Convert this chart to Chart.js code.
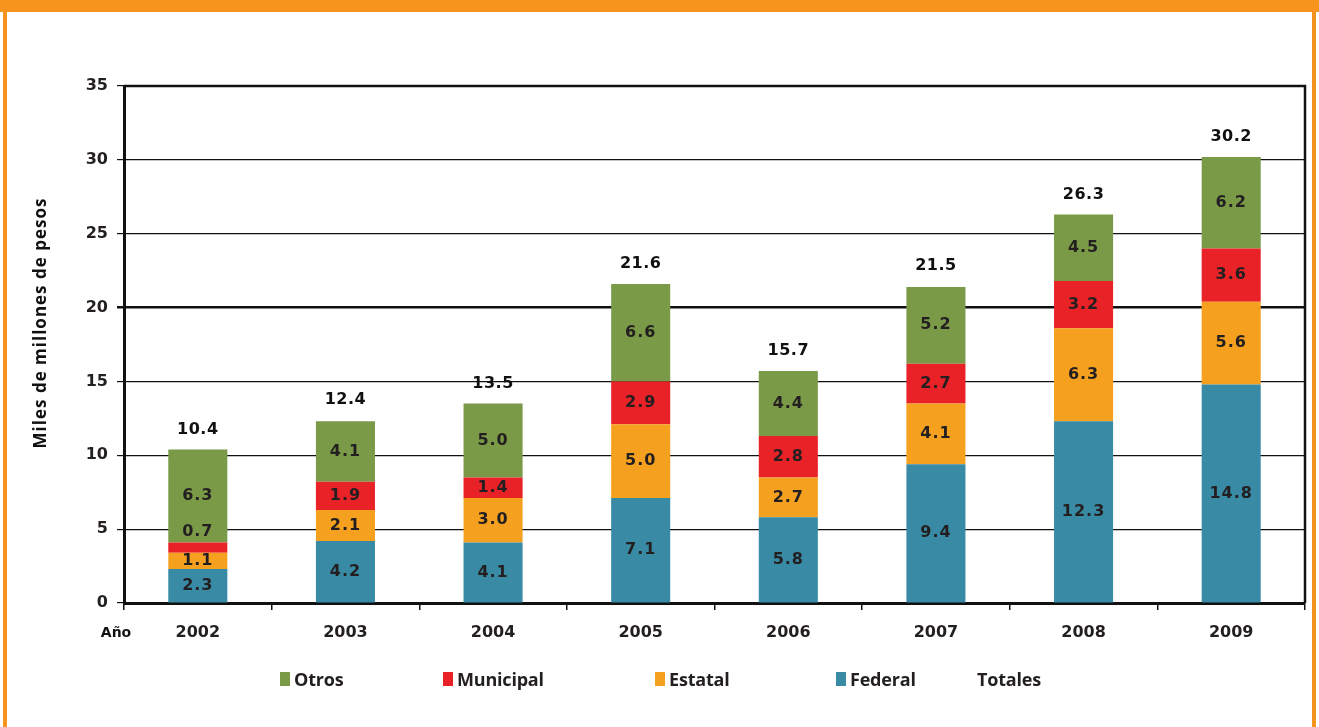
<!DOCTYPE html>
<html>
<head>
<meta charset="utf-8">
<script src="https://cdn.jsdelivr.net/npm/chart.js@4"></script>
<style>
  body { margin: 0; background: #fff; width: 1319px; height: 727px; overflow: hidden; position: relative; font-family: "Open Sans", sans-serif; }
  .frame { position: absolute; left: 3px; top: 0; width: 1305px; height: 760px; border-left: 4px solid #f7941d; border-right: 4px solid #f7941d; }
  .band { position: absolute; left: 0; top: 0; width: 1319px; height: 12px; background: #f7941d; }
  #wrap { position: absolute; left: 0; top: 0; width: 1319px; height: 727px; }
  .legend { position: absolute; top: 667px; font-weight: 700; font-size: 18px; color: #231f20; display: flex; align-items: center; letter-spacing: -0.2px; }
  .legend i { display: inline-block; width: 10px; height: 14px; margin-right: 4px; }
</style>
</head>
<body>
<div class="frame"></div>
<div class="band"></div>
<div id="wrap"><canvas id="c"></canvas></div>
<div class="legend" style="left:280px"><i style="background:#7a9a47"></i>Otros</div>
<div class="legend" style="left:443px"><i style="background:#e92228"></i>Municipal</div>
<div class="legend" style="left:655px"><i style="background:#f5a01f"></i>Estatal</div>
<div class="legend" style="left:836px"><i style="background:#398aa4"></i>Federal</div>
<div class="legend" style="left:977px">Totales</div>
<script>
// Gasto por año (miles de millones de pesos)
const years = ['2002', '2003', '2004', '2005', '2006', '2007', '2008', '2009'];
const federal = [2.3, 4.2, 4.1, 7.1, 5.8, 9.4, 12.3, 14.8];
const estatal = [1.1, 2.1, 3.0, 5.0, 2.7, 4.1, 6.3, 5.6];
const municipal = [0.7, 1.9, 1.4, 2.9, 2.8, 2.7, 3.2, 3.6];
const otros = [6.3, 4.1, 5.0, 6.6, 4.4, 5.2, 4.5, 6.2];
const totales = [10.4, 12.4, 13.5, 21.6, 15.7, 21.5, 26.3, 30.2];
const yTicks = [0, 5, 10, 15, 20, 25, 30, 35];

const textColor = '#231f20';
const fontFam = '"Open Sans", sans-serif';
const tickFam = '"DejaVu Sans", sans-serif';

// labels inside segments + totals on top, frame of plot area, axis title
const labelsPlugin = {
    id: 'labels',
    afterDatasetsDraw(chart) {
        const ctx = chart.ctx;
        const area = chart.chartArea;
        ctx.save();
        // top and right border of the plot
        ctx.strokeStyle = '#111';
        ctx.lineWidth = 2.5;
        ctx.beginPath();
        ctx.moveTo(area.left, area.top);
        ctx.lineTo(area.right, area.top);
        ctx.lineTo(area.right, area.bottom);
        ctx.stroke();

        ctx.fillStyle = textColor;
        ctx.textAlign = 'center';
        ctx.textBaseline = 'middle';
        ctx.letterSpacing = '1px';
        ctx.font = 'bold 16px ' + tickFam;
        for (let d = 0; d < 4; d++) {
            const meta = chart.getDatasetMeta(d);
            const data = chart.data.datasets[d].data;
            meta.data.forEach((bar, i) => {
                const h = bar.base - bar.y;
                const y = h < 14 ? bar.y - 11 : (bar.y + bar.base) / 2;
                ctx.fillText(data[i].toFixed(1), bar.x, y);
            });
        }
        ctx.letterSpacing = '0.5px';
        ctx.fillStyle = '#111';
        ctx.font = 'bold 16px ' + tickFam;
        const tMeta = chart.getDatasetMeta(4);
        tMeta.data.forEach((pt, i) => {
            ctx.fillText(totales[i].toFixed(1), pt.x, pt.y - 20);
        });
        ctx.letterSpacing = '0px';
        ctx.font = 'bold 14px ' + tickFam;
        ctx.fillText('Año', 116, 633);

        // y axis title
        ctx.translate(41, 323);
        ctx.rotate(-Math.PI / 2);
        ctx.letterSpacing = '1px';
        ctx.font = '700 17px ' + fontFam;
        ctx.fillText('Miles de millones de pesos', 0, 0);
        ctx.restore();
    }
};

new Chart(document.getElementById('c'), {
    type: 'bar',
    data: {
        labels: years,
        datasets: [
            { label: 'Federal', data: federal, backgroundColor: '#398aa4' },
            { label: 'Estatal', data: estatal, backgroundColor: '#f5a01f' },
            { label: 'Municipal', data: municipal, backgroundColor: '#e92228' },
            { label: 'Otros', data: otros, backgroundColor: '#7a9a47' },
            { label: 'Totales', type: 'line', data: totales, stack: 'totales', showLine: false, pointRadius: 0, borderWidth: 0 }
        ]
    },
    options: {
        responsive: true,
        maintainAspectRatio: false,
        animation: false,
        layout: { padding: { top: 86, right: 14, left: 0, bottom: 0 } },
        datasets: { bar: { categoryPercentage: 1, barPercentage: 0.4 } },
        plugins: {
            legend: { display: false },
            tooltip: { enabled: false }
        },
        scales: {
            x: {
                stacked: true,
                afterFit: s => { s.height = 124; },
                grid: { display: true, drawOnChartArea: false, color: '#111', lineWidth: 1.5, tickLength: 7, offset: true },
                border: { display: true, color: '#111', width: 3 },
                ticks: { color: textColor, padding: 13, font: { family: tickFam, size: 16, weight: 'bold' } }
            },
            y: {
                stacked: true,
                min: 0,
                max: 35,
                afterFit: s => { s.width = 124; },
                afterBuildTicks: s => { s.ticks = yTicks.map(v => ({ value: v })); },
                grid: {
                    color: '#111',
                    lineWidth: c => (c.tick && c.tick.value === 20 ? 2.5 : 1.2),
                    tickLength: 7
                },
                border: { display: true, color: '#111', width: 3 },
                ticks: { color: textColor, padding: 9, font: { family: tickFam, size: 16, weight: 'bold' } }
            }
        }
    },
    plugins: [labelsPlugin]
});
</script>
</body>
</html>
